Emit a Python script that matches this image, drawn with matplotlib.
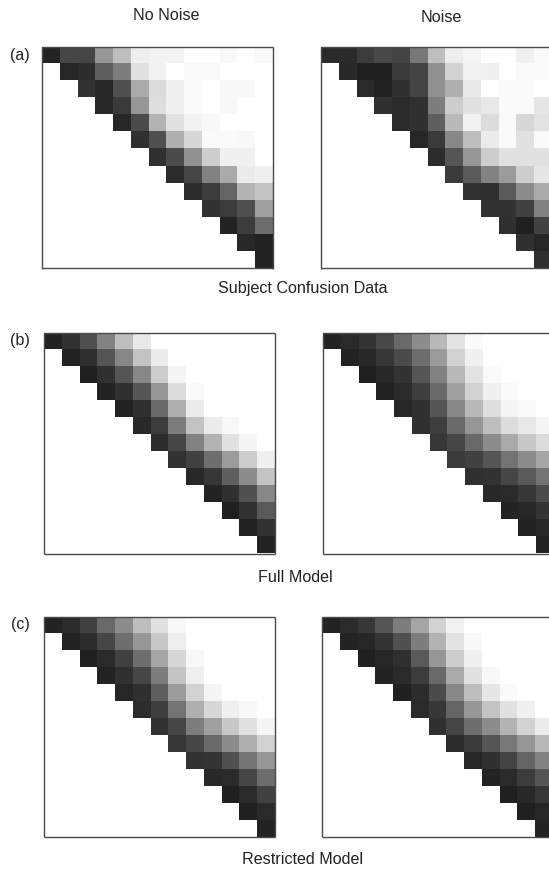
import numpy as np
import matplotlib
matplotlib.use("Agg")
import matplotlib.pyplot as plt

plt.rcParams['font.family'] = ['Liberation Sans', 'DejaVu Sans']

# gray level of each cell, upper triangle only, row i starts at column i
subject_no_noise = [
    [35, 70, 70, 150, 190, 238, 242, 242, 255, 255, 248, 255, 248],
    [38, 45, 95, 125, 225, 242, 255, 250, 250, 255, 255, 255],
    [50, 38, 80, 170, 220, 240, 250, 255, 248, 248, 255],
    [40, 58, 150, 222, 240, 250, 255, 248, 255, 255],
    [38, 75, 180, 225, 242, 248, 255, 255, 255],
    [48, 80, 175, 215, 250, 250, 248, 255],
    [48, 75, 145, 205, 240, 240, 255],
    [45, 70, 130, 170, 235, 240],
    [45, 60, 100, 180, 195],
    [50, 60, 80, 160],
    [35, 60, 110],
    [40, 35],
    [35],
]
subject_noise = [
    [42, 42, 60, 72, 68, 120, 190, 238, 245, 255, 255, 240, 250],
    [40, 32, 32, 58, 68, 145, 212, 242, 240, 255, 250, 250],
    [42, 35, 48, 68, 145, 175, 232, 255, 250, 250, 255],
    [48, 42, 48, 125, 205, 225, 232, 250, 250, 230],
    [42, 48, 95, 185, 242, 220, 250, 215, 228],
    [38, 58, 135, 190, 235, 250, 225, 250],
    [45, 85, 150, 205, 225, 225, 225],
    [58, 90, 130, 155, 205, 230],
    [50, 48, 90, 140, 170],
    [50, 50, 65, 130],
    [48, 32, 65],
    [48, 38],
    [48],
]
full_no_noise = [
    [35, 50, 80, 130, 190, 232, 255, 255, 255, 255, 255, 255, 255],
    [35, 48, 85, 135, 195, 235, 255, 255, 255, 255, 255, 255],
    [32, 48, 85, 135, 205, 245, 255, 255, 255, 255, 255],
    [35, 48, 85, 150, 220, 250, 255, 255, 255, 255],
    [35, 48, 105, 175, 235, 255, 255, 255, 255],
    [40, 60, 125, 195, 235, 248, 255, 255],
    [45, 70, 130, 180, 225, 245, 255],
    [50, 65, 110, 155, 205, 240],
    [40, 55, 95, 140, 195],
    [35, 48, 80, 135],
    [32, 50, 90],
    [35, 50],
    [35],
]
full_noise = [
    [35, 42, 52, 72, 105, 140, 185, 228, 250, 255, 255, 255, 255],
    [35, 40, 55, 75, 110, 155, 210, 240, 255, 255, 255, 255],
    [32, 40, 50, 85, 130, 185, 228, 250, 255, 255, 255],
    [35, 42, 62, 105, 160, 210, 240, 250, 255, 255],
    [40, 48, 85, 135, 185, 222, 245, 250, 255],
    [48, 62, 105, 150, 190, 220, 232, 245],
    [55, 70, 105, 140, 170, 200, 220],
    [58, 65, 85, 115, 140, 165],
    [48, 50, 70, 90, 115],
    [40, 42, 55, 75],
    [35, 38, 52],
    [35, 40],
    [35],
]
restricted_no_noise = [
    [35, 45, 65, 105, 140, 190, 225, 248, 255, 255, 255, 255, 255],
    [35, 45, 70, 110, 150, 200, 238, 255, 255, 255, 255, 255],
    [32, 42, 65, 110, 165, 215, 248, 255, 255, 255, 255],
    [35, 48, 70, 125, 195, 238, 255, 255, 255, 255],
    [38, 48, 95, 155, 210, 245, 255, 255, 255],
    [45, 62, 115, 175, 215, 240, 248, 255],
    [50, 70, 125, 160, 200, 225, 245],
    [55, 70, 105, 140, 175, 210],
    [50, 52, 80, 115, 150],
    [40, 42, 70, 110],
    [32, 42, 65],
    [32, 42],
    [35],
]
restricted_noise = [
    [35, 42, 55, 85, 125, 165, 210, 242, 255, 255, 255, 255, 255],
    [35, 38, 52, 80, 125, 180, 228, 248, 255, 255, 255, 255],
    [32, 38, 48, 90, 150, 205, 240, 255, 255, 255, 255],
    [35, 42, 60, 105, 170, 225, 248, 255, 255, 255],
    [32, 45, 75, 135, 190, 230, 250, 255, 255],
    [42, 55, 100, 150, 195, 225, 240, 255],
    [48, 70, 110, 140, 180, 210, 235],
    [42, 58, 85, 120, 150, 185],
    [38, 48, 68, 100, 130],
    [35, 42, 60, 85],
    [32, 40, 55],
    [32, 38],
    [35],
]

col_titles = ["No Noise", "Noise"]
row_titles = ["Subject Confusion Data", "Full Model", "Restricted Model"]
row_tags = ["(a)", "(b)", "(c)"]

W, H = 549, 869


def to_matrix(rows):
    # fill lower triangle with nan so it stays white
    m = np.full((13, 13), np.nan)
    for i, row in enumerate(rows):
        m[i, i:] = row
    return m


def draw_panel(fig, rows, left, top, width, height):
    ax = fig.add_axes([left / W, 1 - (top + height) / H, width / W, height / H])
    ax.imshow(to_matrix(rows), cmap="gray", vmin=0, vmax=255,
              interpolation="nearest", aspect="auto")
    ax.set_xticks([])
    ax.set_yticks([])
    for s in ax.spines.values():
        s.set_color("#4a4a4a")
        s.set_linewidth(1.0)
        s.set_capstyle("butt")
    return ax


def label(x, y, s, ha="center"):
    fig.text(x / W, 1 - y / H, s, fontsize=11.6, ha=ha, va="center", color="#222222")


fig = plt.figure(figsize=(W / 100, H / 100), dpi=100)

draw_panel(fig, subject_no_noise, 42, 47, 230.5, 221.5)
draw_panel(fig, subject_noise, 320.7, 47, 230.5, 221.5)
draw_panel(fig, full_no_noise, 44.3, 332.7, 230.8, 220.8)
draw_panel(fig, full_noise, 322.7, 332.7, 230.8, 220.8)
draw_panel(fig, restricted_no_noise, 44.3, 617, 230.8, 220.3)
draw_panel(fig, restricted_noise, 322.3, 616.7, 230.8, 220.3)

label(166.5, 15, col_titles[0])
label(441.5, 18, col_titles[1])
label(303, 288.5, row_titles[0])
label(295.7, 577, row_titles[1])
label(302.5, 859, row_titles[2])
label(10, 55.5, row_tags[0], ha="left")
label(10, 341, row_tags[1], ha="left")
label(11, 624, row_tags[2], ha="left")

fig.savefig("out.png", dpi=100)
